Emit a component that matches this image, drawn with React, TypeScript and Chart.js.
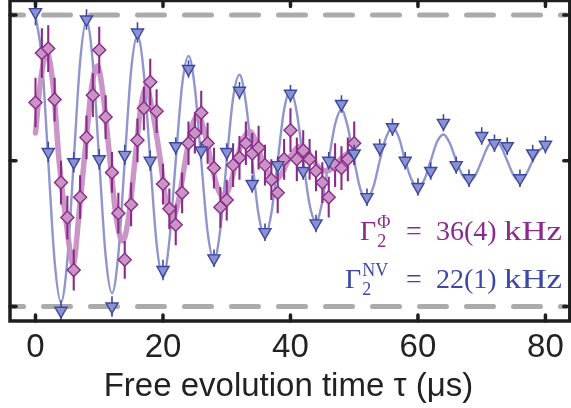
import React, { useEffect, useRef } from 'react';
import { Chart, registerables } from 'chart.js';

Chart.register(...registerables);

// ---------- data ----------
const xRange = [-4, 83.35];
const yRange = [-1.1, 1.1];
const xTicks = [0, 20, 40, 60, 80];
const yTicks = [-1, 0, 1];
const refLevels = [1, -1];

const nvTimes = [0, 2, 4, 6, 8, 10, 12, 14, 16, 18, 20, 22, 24, 26, 28, 30, 32, 34, 36, 38, 40,
  42, 44, 46, 48, 50, 52, 54, 56, 58, 60, 62, 64, 66, 68, 70, 72, 74, 76, 78, 80];
const nvValues = [1.02, 0.06, -1.03, -0.01, 0.97, 0.01, -1.0, 0.04, 0.88, 0.0, -0.75, 0.1, 0.63,
  0.07, -0.67, 0.06, 0.48, -0.16, -0.49, -0.03, 0.46, -0.07, -0.43, 0.0, 0.39, 0.05, -0.25, 0.09,
  0.23, 0.0, -0.18, -0.07, 0.26, -0.03, -0.12, 0.17, 0.12, 0.1, -0.12, 0.05, 0.11];
const nvErrors = [0.09, 0.07, 0.07, 0.07, 0.07, 0.07, 0.07, 0.07, 0.07, 0.07, 0.07, 0.06, 0.06,
  0.06, 0.06, 0.06, 0.06, 0.06, 0.06, 0.06, 0.06, 0.06, 0.06, 0.06, 0.06, 0.06, 0.06, 0.06, 0.06,
  0.06, 0.06, 0.06, 0.06, 0.06, 0.06, 0.06, 0.06, 0.06, 0.06, 0.06, 0.06];

const phiTimes = [0, 1, 2, 3, 4, 5, 6, 7, 8, 9, 10, 11, 12, 13, 14, 15, 16, 17, 18, 19, 20, 21, 22,
  23, 24, 25, 26, 27, 28, 29, 30, 31, 32, 33, 34, 35, 36, 37, 38, 39, 40, 41, 42, 43, 44, 45, 46,
  47, 48, 49, 50];
const phiValues = [0.4, 0.74, 0.77, 0.42, -0.15, -0.39, -0.75, -0.25, 0.16, 0.45, 0.76, 0.3, -0.08,
  -0.36, -0.68, -0.3, 0.14, 0.36, 0.54, 0.34, -0.16, -0.33, -0.44, -0.22, 0.12, 0.19, 0.33, 0.12,
  -0.05, -0.32, -0.27, -0.03, 0.02, 0.12, 0.05, 0.09, -0.03, -0.13, -0.22, 0.01, 0.21, 0.01, 0.07,
  0.01, -0.07, -0.15, -0.25, -0.03, -0.05, 0.01, 0.12];
const phiErrors = [0.17, 0.17, 0.16, 0.15, 0.15, 0.15, 0.14, 0.15, 0.15, 0.15, 0.16, 0.15, 0.14,
  0.14, 0.13, 0.15, 0.15, 0.15, 0.16, 0.15, 0.14, 0.14, 0.14, 0.14, 0.15, 0.14, 0.15, 0.14, 0.14,
  0.14, 0.14, 0.15, 0.15, 0.15, 0.14, 0.15, 0.14, 0.14, 0.14, 0.14, 0.15, 0.15, 0.14, 0.14, 0.14,
  0.14, 0.14, 0.15, 0.15, 0.15, 0.15];

const nvFitTimes = [0, 1, 2, 3, 4, 5, 6, 7, 8, 9, 10, 11, 12, 13, 14, 15, 16, 17, 18, 19, 20, 21,
  22, 23, 24, 25, 26, 27, 28, 29, 30, 31, 32, 33, 34, 35, 36, 37, 38, 39, 40, 41, 42, 43, 44, 45,
  46, 47, 48, 49, 50, 51, 52, 53, 54, 55, 56, 57, 58, 59, 60, 61, 62, 63, 64, 65, 66, 67, 68, 69,
  70, 71, 72, 73, 74, 75, 76, 77, 78, 79, 80];
const nvFitValues = [1.0, 0.7, 0.0, -0.69, -0.97, -0.68, 0.0, 0.68, 0.96, 0.67, 0.0, -0.65, -0.91,
  -0.64, 0.0, 0.62, 0.86, 0.6, 0.0, -0.57, -0.8, -0.55, 0.0, 0.52, 0.72, 0.5, 0.0, -0.49, -0.68,
  -0.47, 0.0, 0.43, 0.59, 0.4, 0.0, -0.37, -0.52, -0.36, 0.0, 0.35, 0.48, 0.33, 0.0, -0.3, -0.42,
  -0.28, 0.0, 0.25, 0.35, 0.23, 0.0, -0.2, -0.26, -0.18, 0.0, 0.16, 0.23, 0.16, 0.0, -0.13, -0.18,
  -0.13, 0.0, 0.13, 0.18, 0.12, 0.0, -0.1, -0.14, -0.1, 0.0, 0.1, 0.14, 0.1, 0.0, -0.1, -0.14,
  -0.09, 0.0, 0.07, 0.1];

const phiFitTimes = [0, 0.8, 1.8, 2.8, 3.7, 4.9, 5.9, 6.9, 7.9, 8.8, 9.7, 10.7, 11.7, 12.7, 13.7,
  14.7, 15.6, 16.5, 17.4, 18.4, 19.6, 20.5, 21.5, 22.5, 23.5, 24.5, 25.5, 26.5, 27.5, 28.5, 29.5,
  30.5, 31.5, 32.5, 33.6, 34.6, 35.6, 36.6, 37.6, 38.6, 39.6, 40.6, 41.6, 42.6, 43.6, 44.6, 45.6,
  46.6, 47.6, 48.6, 49.6, 50];
const phiFitValues = [0.19, 0.55, 0.74, 0.5, 0.0, -0.45, -0.71, -0.33, 0.12, 0.5, 0.65, 0.42, 0.0,
  -0.4, -0.55, -0.36, 0.0, 0.36, 0.5, 0.33, 0.0, -0.28, -0.39, -0.26, 0.0, 0.23, 0.31, 0.2, 0.0,
  -0.18, -0.25, -0.17, 0.0, 0.14, 0.2, 0.13, 0.0, -0.09, -0.13, -0.09, 0.0, 0.07, 0.1, 0.07, 0.0,
  -0.05, -0.07, -0.05, 0.0, 0.04, 0.06, 0.06];

const rateLabels = [
  { sup: 'Φ', value: '36(4)', unit: 'kHz', color: '#8c2a8c' },
  { sup: 'NV', value: '22(1)', unit: 'kHz', color: '#3b48a6' },
];

// ---------- styles ----------
const BLUE_DARK = '#3b48a3';
const BLUE_FILL = '#8c91cf';
const BLUE_LINE = '#9095cd';
const PURPLE_DARK = '#8b2a8b';
const PURPLE_FILL = '#c995c5';
const PINK_LINE = 'rgba(198, 144, 194, 0.95)';
const AXIS = '#1e1e1e';

const pts = (xs: number[], ys: number[]) => xs.map((x, i) => ({ x, y: ys[i] }));

const errorSpecs: Record<string, { errors: number[]; color: string; width: number }> = {
  nv: { errors: nvErrors, color: BLUE_DARK, width: 1.6 },
  phi: { errors: phiErrors, color: PURPLE_DARK, width: 2.1 },
};

const errorBarPlugin = {
  id: 'errorBars',
  beforeDatasetDraw(chart: any, args: any) {
    const ds = chart.data.datasets[args.index];
    const spec = errorSpecs[ds.label];
    if (!spec) return;
    const { ctx, chartArea: a, scales } = chart;
    ctx.save();
    ctx.beginPath();
    ctx.rect(a.left, a.top, a.right - a.left, a.bottom - a.top);
    ctx.clip();
    ctx.strokeStyle = spec.color;
    ctx.lineWidth = spec.width;
    ctx.beginPath();
    ds.data.forEach((p: any, i: number) => {
      const e = spec.errors[i];
      const px = scales.x.getPixelForValue(p.x);
      ctx.moveTo(px, scales.y.getPixelForValue(p.y + e));
      ctx.lineTo(px, scales.y.getPixelForValue(p.y - e));
    });
    ctx.stroke();
    ctx.restore();
  },
};

const labelPlugin = {
  id: 'rateLabels',
  afterDatasetsDraw(chart: any) {
    const ctx = chart.ctx;
    ctx.save();
    ctx.textBaseline = 'alphabetic';
    const serif = '"Liberation Serif", "DejaVu Serif", serif';
    const layout = [
      { gx: 360, base: 240 },
      { gx: 345, base: 288 },
    ];
    rateLabels.forEach((lab, i) => {
      const { gx, base } = layout[i];
      ctx.fillStyle = lab.color;
      ctx.font = `28px ${serif}`;
      ctx.textAlign = 'left';
      ctx.fillText('Γ', gx, base);
      const gw = ctx.measureText('Γ').width;
      ctx.font = `18px ${serif}`;
      ctx.fillText(lab.sup, gx + gw + 1, base - 12);
      ctx.fillText('2', gx + gw + 1, base + 7);
      ctx.font = `28px ${serif}`;
      ctx.fillText('=', 406, base);
      ctx.fillText(lab.value, 436, base);
      const uw = ctx.measureText(lab.unit).width;
      const sx = 58 / uw;
      ctx.save();
      ctx.translate(562 - 58, base);
      ctx.scale(sx, 1);
      ctx.fillText(lab.unit, 0, 0);
      ctx.restore();
    });
    ctx.restore();
  },
};

const framePlugin = {
  id: 'frame',
  afterDraw(chart: any) {
    const { ctx, chartArea: a, scales } = chart;
    const right = a.right + 3;
    ctx.save();
    ctx.strokeStyle = AXIS;
    ctx.lineWidth = 3.5;
    ctx.lineCap = 'round';
    const L = 6;
    ctx.beginPath();
    xTicks.forEach((v) => {
      const px = scales.x.getPixelForValue(v);
      ctx.moveTo(px, a.bottom);
      ctx.lineTo(px, a.bottom - L);
      ctx.moveTo(px, a.top);
      ctx.lineTo(px, a.top + L);
    });
    yTicks.forEach((v) => {
      const py = scales.y.getPixelForValue(v);
      ctx.moveTo(a.left, py);
      ctx.lineTo(a.left + L, py);
      ctx.moveTo(right, py);
      ctx.lineTo(right - L, py);
    });
    ctx.stroke();
    ctx.lineCap = 'butt';
    ctx.strokeRect(a.left, a.top, right - a.left, a.bottom - a.top);
    ctx.restore();
  },
};

export default function App() {
  const ref = useRef<HTMLCanvasElement | null>(null);

  useEffect(() => {
    document.body.style.margin = '0';
    const canvas = ref.current;
    if (!canvas) return;
    const sans = '"Liberation Sans", Arial, Helvetica, sans-serif';
    const refSets = refLevels.map((lvl, i) => ({
      label: 'ref' + i,
      data: [{ x: xRange[0], y: lvl }, { x: xRange[1], y: lvl }],
      borderColor: '#ababab',
      borderWidth: 5,
      borderDash: [27, 20],
      borderDashOffset: 13.5,
      borderCapStyle: 'round' as const,
      pointRadius: 0,
      fill: false,
      order: 10 + i,
    }));
    const chart = new Chart(canvas, {
      type: 'line',
      data: {
        datasets: [
          {
            label: 'nv',
            data: pts(nvTimes, nvValues),
            showLine: false,
            pointStyle: 'triangle',
            pointRotation: 180,
            pointRadius: 7,
            pointBackgroundColor: BLUE_FILL,
            pointBorderColor: BLUE_DARK,
            pointBorderWidth: 1.4,
            order: 0,
          },
          {
            label: 'phi',
            data: pts(phiTimes, phiValues),
            showLine: false,
            pointStyle: 'rectRot',
            pointRadius: 6.5,
            pointBackgroundColor: PURPLE_FILL,
            pointBorderColor: PURPLE_DARK,
            pointBorderWidth: 1.4,
            order: 1,
          },
          {
            label: 'phiFit',
            data: pts(phiFitTimes, phiFitValues),
            borderColor: PINK_LINE,
            borderWidth: 5.5,
            pointRadius: 0,
            cubicInterpolationMode: 'monotone',
            borderCapStyle: 'round',
            fill: false,
            order: 2,
          },
          {
            label: 'nvFit',
            data: pts(nvFitTimes, nvFitValues),
            borderColor: BLUE_LINE,
            borderWidth: 2.4,
            pointRadius: 0,
            cubicInterpolationMode: 'monotone',
            fill: false,
            order: 3,
          },
          ...refSets,
        ] as any,
      },
      options: {
        animation: false,
        responsive: false,
        devicePixelRatio: 1,
        events: [],
        layout: { autoPadding: false, padding: { left: 10, right: 0, top: 0.5, bottom: 0 } },
        plugins: {
          legend: { display: false },
          tooltip: { enabled: false },
          title: { display: false },
        },
        scales: {
          x: {
            type: 'linear',
            min: xRange[0],
            max: xRange[1],
            afterBuildTicks: (s: any) => {
              s.ticks = xTicks.map((v) => ({ value: v }));
            },
            afterFit: (s: any) => {
              s.height = 87;
            },
            grid: { display: false, drawTicks: false },
            border: { display: false },
            ticks: {
              autoSkip: false,
              maxRotation: 0,
              padding: 7.2,
              color: '#222',
              font: { family: sans, size: 33 },
            },
            title: {
              display: true,
              text: 'Free evolution time τ (μs)',
              color: '#222',
              font: { family: sans, size: 33 },
              padding: { top: 0, bottom: 1 },
            },
          },
          y: {
            type: 'linear',
            display: false,
            min: yRange[0],
            max: yRange[1],
          },
        },
      },
      plugins: [errorBarPlugin, labelPlugin, framePlugin],
    });
    return () => chart.destroy();
  }, []);

  return (
    <div style={{ position: 'fixed', left: 0, top: 0, width: 571, height: 408, background: '#fff' }}>
      <canvas ref={ref} width={571} height={408} style={{ display: 'block', width: 571, height: 408 }} />
    </div>
  );
}
